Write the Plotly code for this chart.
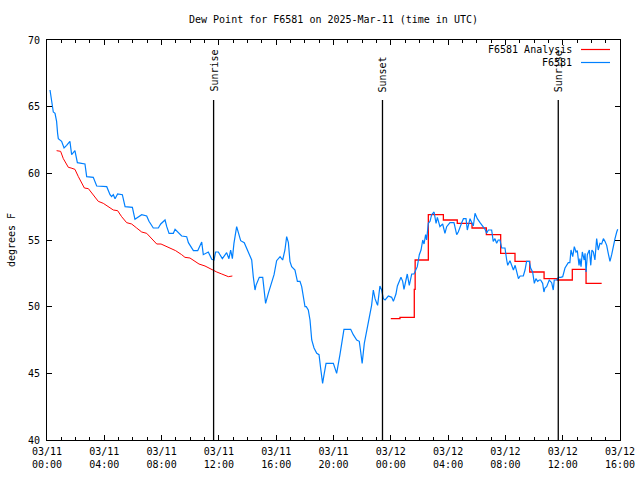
import pandas as pd
import plotly.graph_objects as go

BASE = pd.Timestamp("2025-03-11 00:00")

# Observed dew point (hours since 03/11 00:00 UTC, degrees F)
obs_hours = [0.21, 0.33, 0.44, 0.56, 0.67, 0.74, 0.79, 1.02, 1.19, 1.37, 1.6, 1.72, 1.95, 2.12, 2.42,
             2.65, 2.77, 3.23, 3.47, 4.17, 4.4, 4.51, 4.63, 4.75, 4.93, 5.26, 5.45, 5.96, 6.14, 6.38,
             6.61, 6.96, 7.12, 7.42, 7.77, 7.94, 8.24, 8.36, 8.52, 8.82, 8.94, 9.4, 9.75, 9.87, 10.22,
             10.52, 10.68, 10.8, 10.91, 11.26, 11.5, 11.66, 11.77, 11.96, 12.24, 12.54, 12.7, 12.82,
             12.94, 13.05, 13.24, 13.36, 13.52, 13.77, 13.94, 14.1, 14.29, 14.4, 14.52, 14.59, 14.82,
             15.06, 15.15, 15.26, 15.45, 15.68, 15.85, 16.03, 16.27, 16.45, 16.61, 16.73, 16.85, 16.96,
             17.08, 17.31, 17.48, 17.66, 17.78, 18.01, 18.1, 18.24, 18.36, 18.48, 18.64, 18.83, 18.99,
             19.1, 19.24, 19.34, 19.48, 19.99, 20.22, 20.45, 20.64, 20.73, 21.2, 21.38, 21.62, 21.8,
             21.9, 22.0, 22.15, 22.32, 22.5, 22.66, 22.78, 22.9, 23.02, 23.08, 23.24, 23.36, 23.48,
             23.6, 23.83, 24.06, 24.18, 24.36, 24.46, 24.59, 24.71, 24.83, 24.92, 25.06, 25.15, 25.29,
             25.46, 25.62, 25.76, 25.85, 25.99, 26.11, 26.23, 26.32, 26.43, 26.5, 26.62, 26.74, 26.85,
             27.02, 27.16, 27.25, 27.43, 27.62, 27.78, 27.9, 28.13, 28.41, 28.6, 28.71, 28.95, 29.07,
             29.25, 29.34, 29.53, 29.65, 29.76, 29.88, 30.04, 30.23, 30.41, 30.58, 30.69, 30.81, 31.04,
             31.15, 31.27, 31.39, 31.5, 31.62, 31.74, 31.97, 32.09, 32.16, 32.32, 32.44, 32.56, 32.68,
             32.79, 32.91, 33.03, 33.25, 33.37, 33.48, 33.67, 33.76, 33.9, 34.02, 34.13, 34.25, 34.37,
             34.46, 34.6, 34.69, 34.76, 34.88, 35.06, 35.23, 35.34, 35.41, 35.58, 35.7, 35.87, 36.0,
             36.16, 36.28, 36.39, 36.5, 36.58, 36.7, 36.81, 36.93, 37.02, 37.14, 37.2, 37.28, 37.37,
             37.5, 37.56, 37.63, 37.72, 37.86, 37.96, 38.04, 38.14, 38.25, 38.37, 38.48, 38.6, 38.72,
             38.84, 38.95, 39.07, 39.18, 39.3, 39.42, 39.53, 39.65, 39.77, 39.84]
obs_dewpt = [66.25, 65.25, 64.6, 64.5, 63.9, 63.0, 62.6, 62.4, 61.9, 62.1, 62.4, 61.4, 61.7, 60.8, 60.75,
             60.7, 59.75, 59.7, 59.05, 59.0, 58.4, 58.25, 58.4, 58.1, 58.45, 58.4, 57.5, 57.45, 56.55, 56.75,
             56.9, 56.8, 56.4, 55.9, 55.9, 56.2, 56.5, 56.0, 55.5, 55.5, 55.8, 55.3, 55.25, 54.8, 54.2,
             54.2, 54.6, 54.85, 53.9, 54.1, 53.55, 53.5, 54.1, 54.1, 53.6, 54.05, 53.6, 54.25,
             53.6, 54.75, 56.0, 55.5, 54.95, 54.8, 54.4, 54.0, 53.5, 52.25, 51.25, 51.6, 52.2,
             52.2, 51.25, 50.25, 51.0, 51.75, 52.4, 53.45, 53.75, 53.5, 54.25, 55.25, 54.8, 53.4,
             53.0, 52.75, 51.9, 51.9, 51.5, 50.0, 50.0, 49.75, 49.0, 47.5, 46.9, 46.5, 46.4,
             45.4, 44.25, 44.9, 45.75, 45.75, 45.0, 46.4, 47.5, 48.3, 48.3, 47.9, 47.5, 47.4,
             46.6, 45.75, 47.25, 48.25, 49.1, 50.1, 51.25, 50.6, 50.25, 50.1, 51.55, 51.25, 50.6,
             50.5, 50.8, 50.7, 50.4, 50.95, 51.55, 51.9, 52.2, 51.9, 51.3, 52.0, 52.45, 51.6,
             52.45, 52.45, 52.75, 53.0, 53.9, 54.25, 55.0, 54.7, 55.4, 55.0, 56.25, 56.4, 56.9,
             57.1, 56.25, 56.7, 56.0, 56.2, 55.5, 56.0, 56.3, 56.3, 55.4, 55.6, 56.3, 56.6,
             56.6, 55.75, 56.6, 56.25, 56.05, 57.0, 56.6, 56.3, 56.0, 55.8, 55.5, 55.75, 55.75,
             54.9, 55.1, 54.75, 55.0, 55.0, 54.4, 54.4, 53.5, 53.1, 53.45, 53.1, 52.75, 53.1,
             52.5, 52.1, 52.3, 52.3, 52.75, 53.4, 53.4, 52.9, 52.6, 51.75, 52.1, 51.9, 52.0,
             52.0, 51.75, 51.1, 51.4, 51.5, 52.0, 51.8, 51.25, 52.0, 52.0, 52.2, 52.2, 52.25,
             52.9, 53.1, 53.3, 53.3, 54.25, 53.75, 54.5, 54.1, 54.2, 53.1, 53.6, 53.0, 54.1,
             53.5, 54.0, 52.6, 53.9, 54.25, 53.1, 54.25, 54.1, 53.5, 55.1, 54.25, 54.75, 54.7,
             55.1, 54.9, 54.6, 54.0, 53.4, 53.9, 54.6, 55.1, 55.6, 55.8]

# Analysis, first segment (smooth)
ana1_hours = [0.67, 0.95, 1.14, 1.49, 1.68, 1.95, 2.19, 2.61, 2.89, 3.23, 3.58, 3.93, 4.28, 4.63, 4.93,
              5.21, 5.56, 5.91, 6.26, 6.61, 6.96, 7.31, 7.66, 7.96, 8.36, 8.7, 8.98, 9.4, 9.63, 9.98,
              10.33, 10.61, 11.03, 11.43, 11.85, 12.2, 12.66, 12.94]
ana1_dewpt = [61.7, 61.65, 61.1, 60.45, 60.4, 60.3, 59.75, 58.9, 58.85, 58.4, 57.9, 57.75, 57.5, 57.25, 57.2,
              56.75, 56.3, 56.2, 55.9, 55.6, 55.5, 55.1, 54.7, 54.7, 54.5, 54.3, 54.2, 53.9, 53.7, 53.65,
              53.4, 53.2, 53.05, 52.8, 52.6, 52.45, 52.25, 52.3]

# Analysis, second segment (hourly steps)
ana2_hours = [24.0, 24.64, 25.64, 25.70, 26.62, 27.67, 28.64, 29.67, 30.67, 31.67, 32.67, 33.7, 34.7,
              35.63, 36.67, 37.63, 38.72]
ana2_dewpt = [49.1, 49.2, 51.3, 53.5, 56.9, 56.5, 56.25, 55.9, 55.4, 54.0, 53.4, 52.6, 52.1,
              52.0, 52.8, 51.75, 51.75]

event_names = ["Sunrise", "Sunset", "Sunrise"]
event_hours = [11.63, 23.42, 35.69]
event_line_top = 65.5

tick_hours = [0, 4, 8, 12, 16, 20, 24, 28, 32, 36, 40]
tick_labels = ["03/11<br>00:00", "03/11<br>04:00", "03/11<br>08:00", "03/11<br>12:00",
               "03/11<br>16:00", "03/11<br>20:00", "03/12<br>00:00", "03/12<br>04:00",
               "03/12<br>08:00", "03/12<br>12:00", "03/12<br>16:00"]

series_names = ["F6581 Analysis", "F6581"]
series_colors = ["#ff0000", "#0080ff"]


def to_time(hours):
    return [BASE + pd.Timedelta(hours=h) for h in hours]


FONT = "DejaVu Sans Mono"

fig = go.Figure()
fig.add_trace(go.Scatter(x=to_time(ana1_hours), y=ana1_dewpt, mode="lines",
                         line=dict(color=series_colors[0], width=1), name=series_names[0],
                         showlegend=False))
fig.add_trace(go.Scatter(x=to_time(ana2_hours), y=ana2_dewpt, mode="lines",
                         line=dict(color=series_colors[0], width=1.3, shape="hv"), name=series_names[0],
                         showlegend=False))
fig.add_trace(go.Scatter(x=to_time(obs_hours), y=obs_dewpt, mode="lines",
                         line=dict(color=series_colors[1], width=1.2), name=series_names[1],
                         showlegend=False))

# Sunrise / sunset markers
for name, h in zip(event_names, event_hours):
    t = BASE + pd.Timedelta(hours=h)
    fig.add_shape(type="line", xref="x", yref="y", x0=t, x1=t, y0=40, y1=event_line_top,
                  line=dict(color="black", width=1.3))
    fig.add_annotation(x=t, y=event_line_top, xref="x", yref="y", text=name, textangle=-90,
                       showarrow=False, xanchor="center", yanchor="bottom", yshift=6,
                       font=dict(family=FONT, size=10, color="black"))

# gnuplot-style key (text then line sample)
for i, (nm, col) in enumerate(zip(series_names, series_colors)):
    yp = 1 - (9.5 + 13 * i) / 400
    fig.add_annotation(x=(574 - 47) / 573, y=yp, xref="paper", yref="paper", text=nm,
                       showarrow=False, xanchor="right", yanchor="middle",
                       font=dict(family=FONT, size=10, color="black"))
    fig.add_shape(type="line", xref="paper", yref="paper", x0=(581 - 47) / 573, x1=(610 - 47) / 573,
                  y0=yp, y1=yp, line=dict(color=col, width=1.2))

fig.update_layout(
    width=640, height=480,
    margin=dict(l=47, r=20, t=40, b=40, autoexpand=False),
    paper_bgcolor="white", plot_bgcolor="white",
    font=dict(family=FONT, size=10, color="black"),
    title=dict(text="Dew Point for F6581 on 2025-Mar-11 (time in UTC)", x=(333.5) / 640,
               xref="container", y=1 - 19 / 480, yref="container", xanchor="center",
               yanchor="middle", font=dict(family=FONT, size=10, color="black")),
    showlegend=False,
)
fig.update_xaxes(
    range=[BASE, BASE + pd.Timedelta(hours=40)],
    tickvals=to_time(tick_hours), ticktext=tick_labels,
    ticks="inside", ticklen=5, tickcolor="black", tickwidth=1,
    showline=True, linecolor="black", linewidth=1, mirror="ticks",
    showgrid=False, zeroline=False, automargin=False,
    ticklabelstandoff=2,
    minor=dict(dtick=3600000, tick0=BASE, ticks="inside", ticklen=3, tickcolor="black", showgrid=False),
    tickfont=dict(family=FONT, size=10),
)
fig.update_yaxes(
    range=[40, 70], dtick=5, tick0=40,
    ticks="inside", ticklen=5, tickcolor="black", tickwidth=1,
    showline=True, linecolor="black", linewidth=1, mirror="ticks",
    showgrid=False, zeroline=False, automargin=False,
    ticklabelstandoff=4,
    title=dict(text="degrees F", font=dict(family=FONT, size=10), standoff=10),
    tickfont=dict(family=FONT, size=10),
)

fig.write_html("out.html", config={"displayModeBar": False},
               post_script="document.body.style.margin='0';document.body.style.overflow='hidden';")
